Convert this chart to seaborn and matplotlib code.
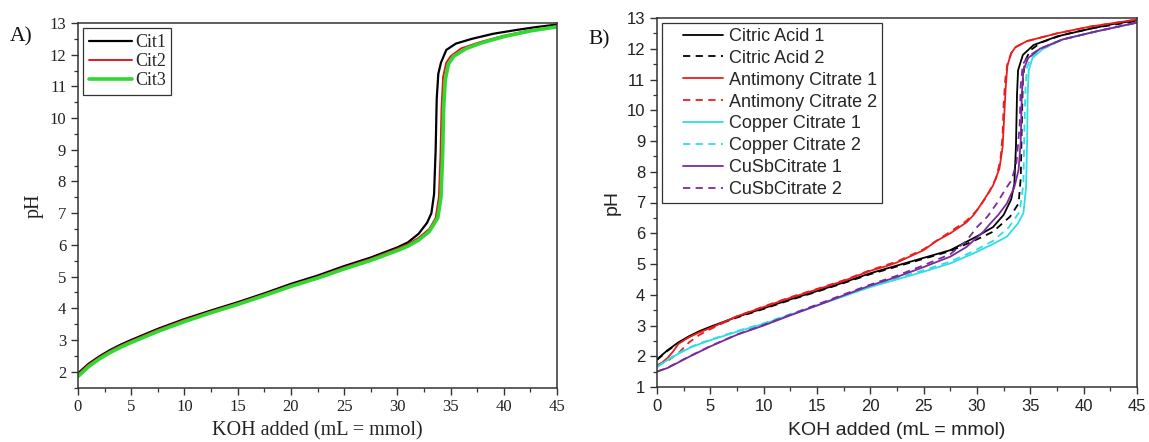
import numpy as np
import pandas as pd
import matplotlib
matplotlib.use("Agg")
import matplotlib.pyplot as plt
import seaborn as sns
from matplotlib.ticker import MultipleLocator
from matplotlib.legend_handler import HandlerLine2D

# ---------------- Panel A: citric acid replicates ----------------
cit1_x = [0, 1, 2, 3, 4, 5, 7.5, 10, 12.5, 15, 17.5, 20, 22.5, 25, 27.5, 30, 31, 32,
          32.8, 33.2, 33.45, 33.6, 33.7, 33.85, 34.1, 34.6, 35.5, 37, 39, 41, 43, 45]
cit1_ph = [1.95, 2.25, 2.48, 2.68, 2.85, 3.0, 3.35, 3.66, 3.93, 4.19, 4.47, 4.77, 5.03, 5.33, 5.6,
           5.92, 6.08, 6.35, 6.7, 7.0, 7.6, 9.0, 10.6, 11.4, 11.75, 12.15, 12.35, 12.5, 12.66,
           12.77, 12.87, 12.95]

cit2_x = [0, 1, 2, 3, 4, 5, 7.5, 10, 12.5, 15, 17.5, 20, 22.5, 25, 27.5, 30, 31, 32, 33,
          33.6, 33.9, 34.05, 34.15, 34.3, 34.6, 35, 36, 37.8, 40, 42.5, 45]
cit2_ph = [1.92, 2.22, 2.45, 2.65, 2.82, 2.97, 3.32, 3.63, 3.9, 4.16, 4.44, 4.73, 4.99, 5.29, 5.56,
           5.88, 6.02, 6.22, 6.5, 6.85, 7.5, 8.8, 10.3, 11.3, 11.75, 11.95, 12.2, 12.4, 12.6,
           12.77, 12.9]

cit3_x = [0, 1, 2, 3, 4, 5, 7.5, 10, 12.5, 15, 17.5, 20, 22.5, 25, 27.5, 30, 31, 32, 33,
          33.8, 34.1, 34.25, 34.35, 34.5, 34.8, 35.3, 36.5, 38, 40, 42.5, 45]
cit3_ph = [1.85, 2.16, 2.4, 2.6, 2.77, 2.92, 3.27, 3.58, 3.86, 4.12, 4.4, 4.69, 4.95, 5.24, 5.51,
           5.82, 5.96, 6.15, 6.42, 6.85, 7.5, 8.8, 10.3, 11.2, 11.7, 11.95, 12.2, 12.38, 12.57,
           12.75, 12.88]

# ---------------- Panel B: citrate complexes ----------------
ca1_x = [0, 1, 2, 3, 4, 5, 7.5, 10, 12.5, 15, 17.5, 20, 22.5, 25, 27.5, 30, 31.5, 32.5,
         33.2, 33.5, 33.65, 33.75, 33.85, 34.3, 35.3, 37.5, 40.6, 43, 45]
ca1_ph = [1.9, 2.2, 2.45, 2.65, 2.82, 2.96, 3.28, 3.56, 3.85, 4.12, 4.4, 4.7, 4.95, 5.2, 5.45,
          5.9, 6.2, 6.6, 7.1, 7.6, 8.8, 10.5, 11.3, 11.8, 12.12, 12.4, 12.65, 12.82, 12.92]

ca2_x = [0, 1, 2, 3, 4, 5, 7.5, 10, 12.5, 15, 17.5, 20, 22.5, 25, 27.5, 30, 31.5, 33.1,
         33.9, 34.1, 34.2, 34.3, 34.5, 35, 36, 38, 41, 45]
ca2_ph = [1.88, 2.18, 2.43, 2.63, 2.8, 2.94, 3.26, 3.54, 3.83, 4.1, 4.38, 4.67, 4.92, 5.17, 5.42,
          5.8, 6.05, 6.54, 6.97, 7.8, 9.5, 11.0, 11.6, 11.95, 12.2, 12.45, 12.68, 12.9]

sb1_x = [0, 0.5, 1, 1.5, 2, 3, 4, 5, 7.5, 10, 12.5, 15, 17.5, 20, 21.5, 22.5, 25, 26.2, 27.5,
         29, 29.7, 30.5, 31.5, 32.1, 32.4, 32.55, 32.7, 32.85, 33.2, 33.6, 34.7, 37.5, 40.6, 45]
sb1_ph = [1.7, 1.8, 1.95, 2.15, 2.4, 2.62, 2.78, 2.92, 3.3, 3.6, 3.9, 4.17, 4.45, 4.78, 4.93,
          5.05, 5.45, 5.75, 6.0, 6.35, 6.6, 7.0, 7.55, 8.1, 8.8, 9.8, 10.8, 11.45, 11.85, 12.05,
          12.25, 12.5, 12.72, 12.95]

sb2_x = [0, 1, 2, 3, 4, 5, 7.5, 10, 12.5, 15, 17.5, 20, 22.5, 25, 27.5, 29, 30, 31, 31.8,
         32.2, 32.4, 32.5, 32.65, 32.85, 33.2, 33.6, 34.7, 37.5, 40.6, 45]
sb2_ph = [1.7, 1.85, 2.1, 2.45, 2.7, 2.88, 3.3, 3.62, 3.92, 4.19, 4.47, 4.8, 5.08, 5.48, 6.05,
          6.4, 6.75, 7.25, 7.8, 8.4, 9.2, 10.2, 11.0, 11.5, 11.85, 12.05, 12.25, 12.5, 12.72,
          12.95]

cu1_x = [0, 1, 2, 3, 4, 5, 7.5, 10, 12.5, 15, 17.5, 20, 22.5, 25, 27.5, 29.7, 31.5, 32.8,
         33.8, 34.35, 34.6, 34.7, 34.75, 34.85, 35.2, 36.2, 38, 41, 45]
cu1_ph = [1.65, 1.88, 2.08, 2.26, 2.4, 2.52, 2.8, 3.05, 3.35, 3.65, 3.95, 4.25, 4.5, 4.75, 5.02,
          5.35, 5.65, 5.89, 6.3, 6.65, 7.5, 9.0, 10.5, 11.3, 11.7, 12.0, 12.3, 12.55, 12.85]

cu2_x = [0, 1, 2, 3, 4, 5, 7.5, 10, 12.5, 15, 17.5, 20, 22.5, 25, 27.5, 29.7, 31.5, 33,
         34, 34.35, 34.45, 34.55, 34.7, 35.1, 36.2, 38, 41, 45]
cu2_ph = [1.65, 1.9, 2.1, 2.28, 2.42, 2.54, 2.82, 3.07, 3.37, 3.67, 3.97, 4.27, 4.53, 4.8, 5.08,
          5.42, 5.75, 6.2, 6.7, 7.6, 9.5, 10.8, 11.4, 11.75, 12.0, 12.3, 12.55, 12.85]

cusb1_x = [0, 1, 2, 3, 4, 5, 7.5, 10, 12.5, 15, 17.5, 20, 22.5, 25, 27.5, 29, 30.6, 31.2, 32,
           32.8, 33.5, 33.9, 34.1, 34.2, 34.35, 34.8, 35.9, 38, 41, 45]
cusb1_ph = [1.5, 1.62, 1.8, 1.98, 2.15, 2.32, 2.7, 3.0, 3.33, 3.65, 3.98, 4.3, 4.58, 4.9, 5.24,
            5.55, 6.05, 6.3, 6.6, 6.97, 7.5, 8.06, 9.0, 10.5, 11.3, 11.7, 12.0, 12.3, 12.55,
            12.85]

cusb2_x = [0, 1, 2, 3, 4, 5, 7.5, 10, 12.5, 15, 17.5, 20, 22.5, 25, 27.5, 29, 30, 31, 31.85,
           32.7, 33.25, 33.7, 34.0, 34.1, 34.3, 34.8, 35.9, 38, 41, 45]
cusb2_ph = [1.5, 1.63, 1.81, 1.99, 2.16, 2.33, 2.71, 3.02, 3.35, 3.68, 4.01, 4.33, 4.62, 4.96,
            5.32, 5.75, 6.2, 6.55, 6.97, 7.45, 7.73, 8.3, 9.5, 10.8, 11.5, 11.75, 12.0, 12.3,
            12.55, 12.85]

x_ticks = [0, 5, 10, 15, 20, 25, 30, 35, 40, 45]

series_a = [
    ("Cit1", cit1_x, cit1_ph, "#000000", 1.6),
    ("Cit2", cit2_x, cit2_ph, "#e01b1b", 1.4),
    ("Cit3", cit3_x, cit3_ph, "#2fd92f", 2.6),
]

series_b = [
    ("Citric Acid 1", ca1_x, ca1_ph, "#000000", "-"),
    ("Citric Acid 2", ca2_x, ca2_ph, "#000000", "--"),
    ("Antimony Citrate 1", sb1_x, sb1_ph, "#ec1c1c", "-"),
    ("Antimony Citrate 2", sb2_x, sb2_ph, "#ec1c1c", "--"),
    ("Copper Citrate 1", cu1_x, cu1_ph, "#2fdde6", "-"),
    ("Copper Citrate 2", cu2_x, cu2_ph, "#2fdde6", "--"),
    ("CuSbCitrate 1", cusb1_x, cusb1_ph, "#7b2a9c", "-"),
    ("CuSbCitrate 2", cusb2_x, cusb2_ph, "#7b2a9c", "--"),
]


class LeadingGapLine(HandlerLine2D):
    """Legend line handler that leaves an empty lead before the sample line."""

    def __init__(self, lead_frac=0.3, **kw):
        super().__init__(**kw)
        self.lead_frac = lead_frac

    def create_artists(self, legend, orig_handle, xdescent, ydescent, width, height,
                       fontsize, trans):
        arts = super().create_artists(legend, orig_handle, xdescent, ydescent, width,
                                      height, fontsize, trans)
        x0 = -xdescent + self.lead_frac * width
        x1 = -xdescent + width
        for a in arts:
            xd = np.asarray(a.get_xdata(), dtype=float)
            if xd.size > 1:
                a.set_xdata(np.linspace(x0, x1, xd.size))
        return arts


sns.set_theme(style="white")
plt.rcParams["font.family"] = ["DejaVu Sans"]

fig = plt.figure(figsize=(11.49, 4.42), dpi=100)
ax_a = fig.add_axes([78 / 1149, 1 - 387.5 / 442, (557 - 78) / 1149, (387.5 - 23) / 442])
ax_b = fig.add_axes([657 / 1149, 1 - 387 / 442, (1137 - 657) / 1149, (387 - 18) / 442])


def style_axes(ax, family, ylim, tick_size, label_size, labelpad):
    ax.set_xlim(0, 45)
    ax.set_ylim(*ylim)
    ax.set_xticks(x_ticks)
    ax.xaxis.set_minor_locator(MultipleLocator(2.5))
    ax.yaxis.set_major_locator(MultipleLocator(1))
    ax.yaxis.set_minor_locator(MultipleLocator(0.5))
    for side in ["left", "bottom", "top", "right"]:
        ax.spines[side].set_visible(True)
        ax.spines[side].set_color("#333333")
        ax.spines[side].set_linewidth(1.1)
    ax.tick_params(which="major", direction="out", length=5, width=1.0, color="#333333",
                   left=True, bottom=True, top=False, right=False, pad=3.5)
    ax.tick_params(which="minor", direction="out", length=3, width=0.9, color="#333333",
                   left=True, bottom=True, top=False, right=False)
    for lab in ax.get_xticklabels() + ax.get_yticklabels():
        lab.set_fontfamily(family)
        lab.set_fontsize(tick_size)
        lab.set_color("#222222")
    ax.set_xlabel("KOH added (mL = mmol)", family=family, fontsize=label_size,
                  color="#222222", labelpad=labelpad)
    ax.set_ylabel("pH", family=family, fontsize=label_size, color="#222222", labelpad=4)
    ax.grid(False)


for name, xs, ys, color, lw in series_a:
    sns.lineplot(x=xs, y=ys, ax=ax_a, color=color, linewidth=lw, label=name,
                 estimator=None, sort=False)

for name, xs, ys, color, ls in series_b:
    sns.lineplot(x=xs, y=ys, ax=ax_b, color=color, linewidth=1.3, linestyle=ls,
                 label=name, estimator=None, sort=False)
for line in ax_b.get_lines():
    if line.get_linestyle() == "--":
        line.set_dashes((4, 3))

style_axes(ax_a, "Liberation Serif", (1.5, 13), 12, 14.5, 4)
style_axes(ax_b, "Liberation Sans", (1, 13), 12, 14, 6)

leg_a = ax_a.legend(loc="upper left", bbox_to_anchor=(0.0, 1.0), frameon=True,
                    fancybox=False, edgecolor="#333333", framealpha=1,
                    prop={"family": "Liberation Serif", "size": 13},
                    handlelength=2.4, handletextpad=0.15, borderpad=0.3,
                    labelspacing=0.12, borderaxespad=0.3)
leg_a.get_frame().set_linewidth(0.9)

handles_b, labels_b = ax_b.get_legend_handles_labels()
leg_b = ax_b.legend(handles_b, labels_b, loc="upper left", bbox_to_anchor=(0.0, 1.0),
                    frameon=True, fancybox=False, edgecolor="#333333", framealpha=1,
                    prop={"family": "Liberation Sans", "size": 13},
                    handlelength=3.1, handletextpad=0.33, borderpad=0.25,
                    labelspacing=0.27, borderaxespad=0.3,
                    handler_map={h: LeadingGapLine(lead_frac=0.28) for h in handles_b})
leg_b.get_frame().set_linewidth(0.9)

fig.text(10 / 1149, 1 - 37 / 442, "A)", family="Liberation Serif", fontsize=15.5,
         va="center", ha="left", color="#111111")
fig.text(588 / 1149, 1 - 40 / 442, "B)", family="Liberation Serif", fontsize=15.5,
         va="center", ha="left", color="#111111")

fig.savefig("out.png", dpi=100, facecolor="white")
